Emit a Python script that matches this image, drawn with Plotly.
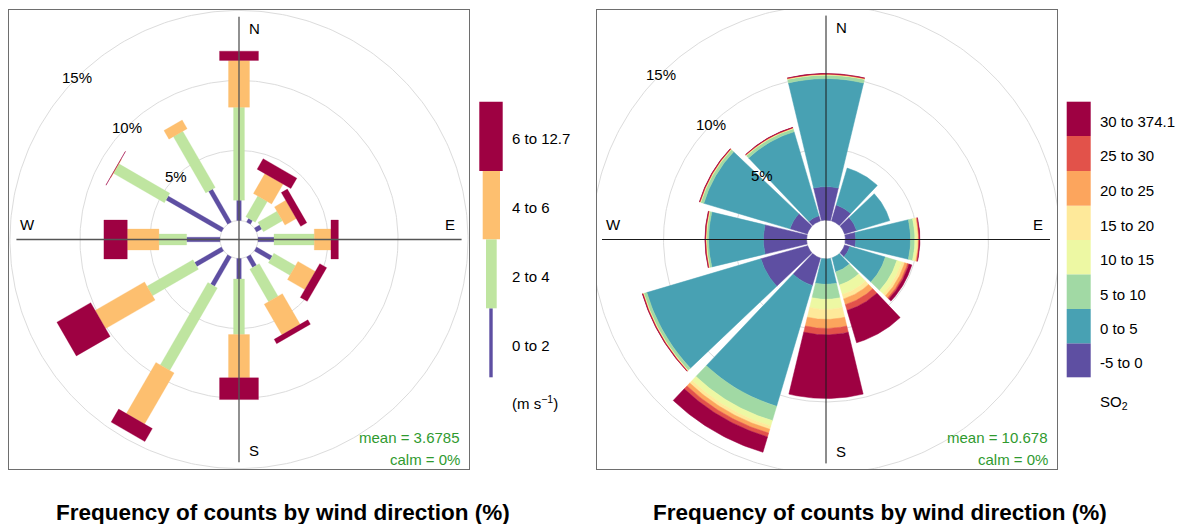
import numpy as np
import plotly.graph_objects as go

# ---------------------------------------------------------------- data
directions = [0, 30, 60, 90, 120, 150, 180, 210, 240, 270, 300, 330]

# wind rose: frequency (%) per direction for each wind-speed interval
ws_labels = ["0 to 2", "2 to 4", "4 to 6", "6 to 12.7"]
ws_0_2 = [1.45, 0.29, 0.43, 1.14, 1.29, 0.86, 1.46, 2.41, 2.21, 2.38, 4.57, 2.71]
ws_2_4 = [6.64, 1.71, 1.57, 2.88, 1.78, 2.68, 3.97, 6.80, 3.79, 1.98, 4.20, 4.64]
ws_4_6 = [3.34, 1.64, 0.93, 1.19, 1.43, 2.53, 3.09, 4.22, 4.07, 2.26, 0.03, 0.71]
ws_6_12 = [0.66, 0.86, 0.50, 0.53, 0.57, 0.36, 1.55, 1.07, 2.79, 1.67, 0.02, 0.00]
ws_mean = "3.6785"

# pollution rose: frequency (%) per direction for each SO2 interval
so2_labels = ["-5 to 0", "0 to 5", "5 to 10", "10 to 15",
              "15 to 20", "20 to 25", "25 to 30", "30 to 374.1"]
so2_m5_0 = [2.34, 1.15, 0.87, 0.73, 0.38, 0.00, 0.00, 1.99, 3.39, 3.02, 1.26, 0.38]
so2_0_5 = [7.56, 2.70, 2.42, 3.83, 2.59, 1.01, 1.78, 8.81, 8.32, 3.83, 6.29, 6.12]
so2_5_10 = [0.24, 0.00, 0.00, 0.30, 0.84, 0.95, 1.05, 1.05, 0.21, 0.14, 0.21, 0.21]
so2_10_15 = [0.03, 0.00, 0.00, 0.16, 0.35, 0.69, 0.70, 0.39, 0.03, 0.03, 0.03, 0.03]
so2_15_20 = [0.02, 0.00, 0.00, 0.08, 0.21, 0.32, 0.70, 0.24, 0.02, 0.02, 0.02, 0.02]
so2_20_25 = [0.02, 0.00, 0.00, 0.04, 0.21, 0.42, 0.63, 0.28, 0.02, 0.02, 0.02, 0.02]
so2_25_30 = [0.02, 0.00, 0.00, 0.03, 0.11, 0.42, 0.45, 0.28, 0.02, 0.02, 0.02, 0.02]
so2_30_max = [0.02, 0.00, 0.00, 0.04, 0.21, 2.36, 4.45, 1.12, 0.02, 0.02, 0.02, 0.02]
so2_mean = "10.678"

grid_levels = [5, 10, 15]
compass = ["N", "E", "S", "W"]
title_text = "Frequency of counts by wind direction (%)"

# ---------------------------------------------------------------- style
W, H = 1191, 524
FONT = "Arial, Liberation Sans, sans-serif"
ws_colours = ["#5E4FA2", "#BFE5A0", "#FDBF6F", "#9E0142"]
so2_colours = ["#5E4FA2", "#48A1B3", "#A1D9A4", "#EDF8A3",
               "#FEE99A", "#FCA55D", "#E2524A", "#9E0142"]
ws_half_width = [0.16, 0.39, 0.75, 1.39]   # paddle half-widths (axis units)
hole = 1.36                                 # radius of the empty centre
sector_half = 13.5                          # half-angle of each sector (deg)
grid_colour = "#DCDCDC"
stat_colour = "#2F9A2F"


def px_x(p):
    return p / W


def px_y(p):
    return 1 - p / H


def paddles(values, half_widths, colours, xa, ya):
    """Stacked rectangular paddles, one trace per interval."""
    traces = []
    cum = np.zeros(len(directions))
    for vals, hw, col in zip(values, half_widths, colours):
        vals = np.asarray(vals, dtype=float)
        xs, ys = [], []
        for i, d in enumerate(directions):
            a = hole + cum[i]
            b = a + vals[i]
            if vals[i] > 0:
                t = np.radians(d)
                ux, uy = np.sin(t), np.cos(t)
                vx, vy = np.cos(t), -np.sin(t)
                pts = [(a * ux + hw * vx, a * uy + hw * vy),
                       (b * ux + hw * vx, b * uy + hw * vy),
                       (b * ux - hw * vx, b * uy - hw * vy),
                       (a * ux - hw * vx, a * uy - hw * vy)]
                pts.append(pts[0])
                xs += [p[0] for p in pts] + [None]
                ys += [p[1] for p in pts] + [None]
        cum += vals
        traces.append(go.Scatter(x=xs, y=ys, mode="lines", fill="toself",
                                 fillcolor=col, line=dict(color=col, width=0.3),
                                 hoverinfo="skip", showlegend=False,
                                 xaxis=xa, yaxis=ya))
    return traces


def sectors(values, colours, xa, ya):
    """Stacked wedge sectors, one trace per interval."""
    traces = []
    cum = np.zeros(len(directions))
    for vals, col in zip(values, colours):
        vals = np.asarray(vals, dtype=float)
        xs, ys = [], []
        for i, d in enumerate(directions):
            a = hole + cum[i]
            b = a + vals[i]
            if vals[i] > 0:
                th = np.radians(np.linspace(d - sector_half, d + sector_half, 40))
                px = np.concatenate([b * np.sin(th), a * np.sin(th[::-1])])
                py = np.concatenate([b * np.cos(th), a * np.cos(th[::-1])])
                xs += list(px) + [px[0], None]
                ys += list(py) + [py[0], None]
        cum += vals
        traces.append(go.Scatter(x=xs, y=ys, mode="lines", fill="toself",
                                 fillcolor=col, line=dict(color=col, width=0.5),
                                 hoverinfo="skip", showlegend=False,
                                 xaxis=xa, yaxis=ya))
    return traces


def grid(xa, ya):
    out = []
    th = np.radians(np.linspace(0, 360, 361))
    for lv in [0] + grid_levels:
        r = hole + lv
        out.append(go.Scatter(x=r * np.sin(th), y=r * np.cos(th), mode="lines",
                              line=dict(color=grid_colour, width=1),
                              hoverinfo="skip", showlegend=False,
                              xaxis=xa, yaxis=ya))
    return out


def cross(extent, colour, width, xa, ya):
    return [go.Scatter(x=[0, 0], y=[-extent, extent], mode="lines",
                       line=dict(color=colour, width=width), hoverinfo="skip",
                       showlegend=False, xaxis=xa, yaxis=ya),
            go.Scatter(x=[-extent, extent], y=[0, 0], mode="lines",
                       line=dict(color=colour, width=width), hoverinfo="skip",
                       showlegend=False, xaxis=xa, yaxis=ya)]


fig = go.Figure()

# left panel: wind rose
for tr in grid("x", "y"):
    fig.add_trace(tr)
for tr in paddles([ws_0_2, ws_2_4, ws_4_6, ws_6_12], ws_half_width,
                  ws_colours, "x", "y"):
    fig.add_trace(tr)
for tr in cross(15.9, "#555555", 1.3, "x", "y"):
    fig.add_trace(tr)

# right panel: pollution rose
for tr in grid("x2", "y2"):
    fig.add_trace(tr)
for tr in sectors([so2_m5_0, so2_0_5, so2_5_10, so2_10_15, so2_15_20,
                   so2_20_25, so2_25_30, so2_30_max], so2_colours, "x2", "y2"):
    fig.add_trace(tr)
for tr in cross(15.66, "#1A1A1A", 1, "x2", "y2"):
    fig.add_trace(tr)

annotations = []
shapes = []


def panel_text(xref, yref, label_r, off_ax):
    # compass letters sit just clockwise of each axis end
    pos = {"N": (off_ax, label_r), "E": (label_r, off_ax),
           "S": (off_ax, -label_r), "W": (-label_r, off_ax)}
    for c in compass:
        annotations.append(dict(x=pos[c][0], y=pos[c][1], xref=xref, yref=yref,
                                text=c, showarrow=False,
                                font=dict(family=FONT, size=15, color="#000")))
    for lv in grid_levels:
        r = hole + lv
        annotations.append(dict(x=-r * np.sin(np.radians(45)),
                                y=r * np.cos(np.radians(45)),
                                xref=xref, yref=yref, text=f"{lv}%",
                                showarrow=False,
                                font=dict(family=FONT, size=15, color="#000")))


panel_text("x", "y", 15.1, 1.1)
panel_text("x2", "y2", 14.85, 1.05)

# summary statistics
for xr, mean in [(462, ws_mean), (1050, so2_mean)]:
    annotations.append(dict(x=px_x(xr), y=px_y(437), xref="paper", yref="paper",
                            xanchor="right", yanchor="middle",
                            text=f"mean = {mean}", showarrow=False,
                            font=dict(family=FONT, size=15, color=stat_colour)))
    annotations.append(dict(x=px_x(xr), y=px_y(459), xref="paper", yref="paper",
                            xanchor="right", yanchor="middle",
                            text="calm = 0%", showarrow=False,
                            font=dict(family=FONT, size=15, color=stat_colour)))

# titles under each panel
for xc in [283, 880]:
    annotations.append(dict(x=px_x(xc), y=px_y(512), xref="paper", yref="paper",
                            xanchor="center", yanchor="middle",
                            text=f"<b>{title_text}</b>", showarrow=False,
                            font=dict(family=FONT, size=22.5, color="#000")))

# wind speed key
ws_key_y = [377.3, 308.3, 239.3, 171.0, 101.7]
ws_key_x = [(489.3, 492.7), (486.0, 496.7), (482.7, 500.0), (479.3, 502.7)]
for i, (lab, col) in enumerate(zip(ws_labels, ws_colours)):
    y0, y1 = ws_key_y[i], ws_key_y[i + 1]
    shapes.append(dict(type="rect", xref="paper", yref="paper",
                       x0=px_x(ws_key_x[i][0]), x1=px_x(ws_key_x[i][1]),
                       y0=px_y(y0), y1=px_y(y1), fillcolor=col,
                       line=dict(width=0)))
    annotations.append(dict(x=px_x(510), y=px_y((y0 + y1) / 2 + 2.5),
                            xref="paper", yref="paper", xanchor="left",
                            yanchor="middle", text=lab, showarrow=False,
                            font=dict(family=FONT, size=15, color="#000")))
annotations.append(dict(x=px_x(510), y=px_y(402), xref="paper", yref="paper",
                        xanchor="left", yanchor="middle",
                        text="(m s<sup>\u22121</sup>)", showarrow=False,
                        font=dict(family=FONT, size=15, color="#000")))

# SO2 key
so2_key_y = [377.3, 343.3, 309.0, 274.3, 240.0, 205.7, 171.0, 136.0, 101.7]
for i, (lab, col) in enumerate(zip(so2_labels, so2_colours)):
    y0, y1 = so2_key_y[i], so2_key_y[i + 1]
    shapes.append(dict(type="rect", xref="paper", yref="paper",
                       x0=px_x(1066.7), x1=px_x(1090.7),
                       y0=px_y(y0), y1=px_y(y1), fillcolor=col,
                       line=dict(width=0)))
    annotations.append(dict(x=px_x(1098), y=px_y((y0 + y1) / 2 + 2.5),
                            xref="paper", yref="paper", xanchor="left",
                            yanchor="middle", text=lab, showarrow=False,
                            font=dict(family=FONT, size=15, color="#000")))
annotations.append(dict(x=px_x(1098), y=px_y(402), xref="paper", yref="paper",
                        xanchor="left", yanchor="middle",
                        text="SO<sub>2</sub>", showarrow=False,
                        font=dict(family=FONT, size=15, color="#000")))

axis_common = dict(showgrid=False, zeroline=False, showticklabels=False,
                   ticks="", showline=True, mirror=True, linecolor="#6E6E6E",
                   linewidth=1, fixedrange=True)

fig.update_layout(
    width=W, height=H, autosize=False,
    margin=dict(l=0, r=0, t=0, b=0),
    paper_bgcolor="white", plot_bgcolor="white",
    showlegend=False,
    xaxis=dict(domain=[px_x(9), px_x(469)], range=[-16.43, 16.43],
               anchor="y", **axis_common),
    yaxis=dict(domain=[px_y(469), px_y(10)], range=[-16.39, 16.39],
               anchor="x", **axis_common),
    xaxis2=dict(domain=[px_x(597), px_x(1057)], range=[-16.01, 16.15],
                anchor="y2", **axis_common),
    yaxis2=dict(domain=[px_y(469), px_y(10)], range=[-16.05, 16.05],
                anchor="x2", **axis_common),
    annotations=annotations,
    shapes=shapes,
)

fig.write_html("out.html")
